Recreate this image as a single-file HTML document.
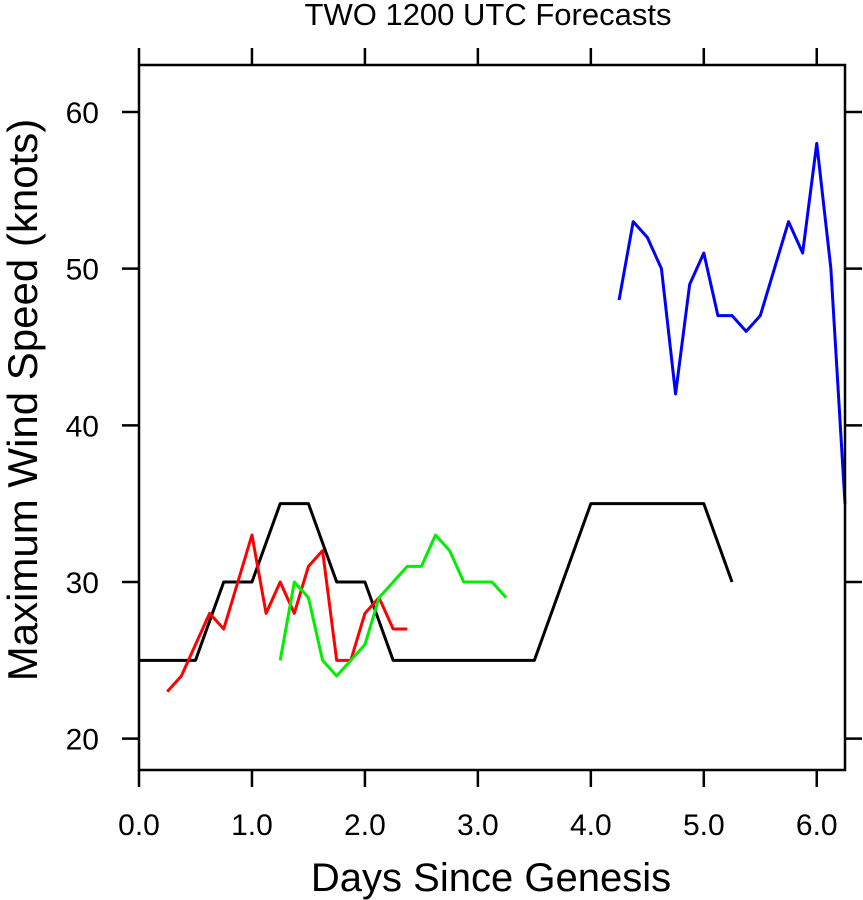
<!DOCTYPE html>
<html><head><meta charset="utf-8"><style>
html,body{margin:0;padding:0;background:#fff;}
svg{display:block;font-family:"Liberation Sans",Helvetica,Arial,sans-serif;}
</style></head><body>
<svg id="chart" width="863" height="900" viewBox="0 0 863 900" xmlns="http://www.w3.org/2000/svg">
<text x="488" y="25" font-size="31" text-anchor="middle">TWO 1200 UTC Forecasts</text>
<g id="ticks"></g>
<g id="series"></g>
<rect x="139" y="65" width="706" height="705" fill="none" stroke="#000" stroke-width="2.5"/>
<text x="491" y="891" font-size="40" text-anchor="middle">Days Since Genesis</text>
<text transform="translate(37,400) rotate(-90)" font-size="42" text-anchor="middle">Maximum Wind Speed (knots)</text>
</svg>
<script>
const xTicks=[0,1,2,3,4,5,6];
const xTickLabels=["0.0","1.0","2.0","3.0","4.0","5.0","6.0"];
const yTicks=[20,30,40,50,60];
const blackX=[0,0.25,0.5,0.75,1,1.25,1.5,1.75,2,2.25,2.5,2.75,3,3.25,3.5,3.75,4,4.25,4.5,4.75,5,5.25];
const blackY=[25,25,25,30,30,35,35,30,30,25,25,25,25,25,25,30,35,35,35,35,35,30];
const redX=[0.25,0.375,0.5,0.625,0.75,0.875,1,1.125,1.25,1.375,1.5,1.625,1.75,1.875,2,2.125,2.25,2.375];
const redY=[23,24,26,28,27,30,33,28,30,28,31,32,25,25,28,29,27,27];
const greenX=[1.25,1.375,1.5,1.625,1.75,1.875,2,2.125,2.25,2.375,2.5,2.625,2.75,2.875,3,3.125,3.25];
const greenY=[25,30,29,25,24,25,26,29,30,31,31,33,32,30,30,30,29];
const blueX=[4.25,4.375,4.5,4.625,4.75,4.875,5,5.125,5.25,5.375,5.5,5.625,5.75,5.875,6,6.125,6.25];
const blueY=[48,53,52,50,42,49,51,47,47,46,47,50,53,51,58,50,35];
const X0=139,X1=845,Y0=770,Y1=65,xmin=0,xmax=6.25,ymin=18,ymax=63;
const sx=v=>X0+(v-xmin)/(xmax-xmin)*(X1-X0);
const sy=v=>Y0-(v-ymin)/(ymax-ymin)*(Y0-Y1);
const NS="http://www.w3.org/2000/svg";
const tg=document.getElementById('ticks'),sg=document.getElementById('series');
function ln(x1,y1,x2,y2){const l=document.createElementNS(NS,'line');l.setAttribute('x1',x1);l.setAttribute('y1',y1);l.setAttribute('x2',x2);l.setAttribute('y2',y2);l.setAttribute('stroke','#000');l.setAttribute('stroke-width','2.5');tg.appendChild(l);return l;}
xTicks.forEach((t,i)=>{const x=sx(t);
const a=ln(x,Y0,x,Y0+17);
const b=ln(x,Y1,x,Y1-17);
const tx=document.createElementNS(NS,'text');tx.setAttribute('x',x);tx.setAttribute('y',Y0+65);tx.setAttribute('font-size','30');tx.setAttribute('text-anchor','middle');tx.textContent=xTickLabels[i];


tg.appendChild(tx);});
yTicks.forEach(t=>{const y=sy(t);
const a=ln(X0,y,X0-17,y);
const b=ln(X1,y,X1+17,y);
const tx=document.createElementNS(NS,'text');tx.setAttribute('x',X0-40);tx.setAttribute('y',y+11);tx.setAttribute('font-size','30');tx.setAttribute('text-anchor','end');tx.textContent=String(t);


tg.appendChild(tx);});
function series(xs,ys,color,name){const p=document.createElementNS(NS,'polyline');
p.setAttribute('points',xs.map((x,i)=>sx(x)+','+sy(ys[i])).join(' '));
p.setAttribute('fill','none');p.setAttribute('stroke',color);p.setAttribute('stroke-width','3');p.setAttribute('stroke-linejoin','round');


sg.appendChild(p);}
series(blackX,blackY,'#000','black-series-line');
series(redX,redY,'#ff0000','red-series-line');
series(greenX,greenY,'#00ee00','green-series-line');
series(blueX,blueY,'#0000ff','blue-series-line');
</script>
</body></html>
